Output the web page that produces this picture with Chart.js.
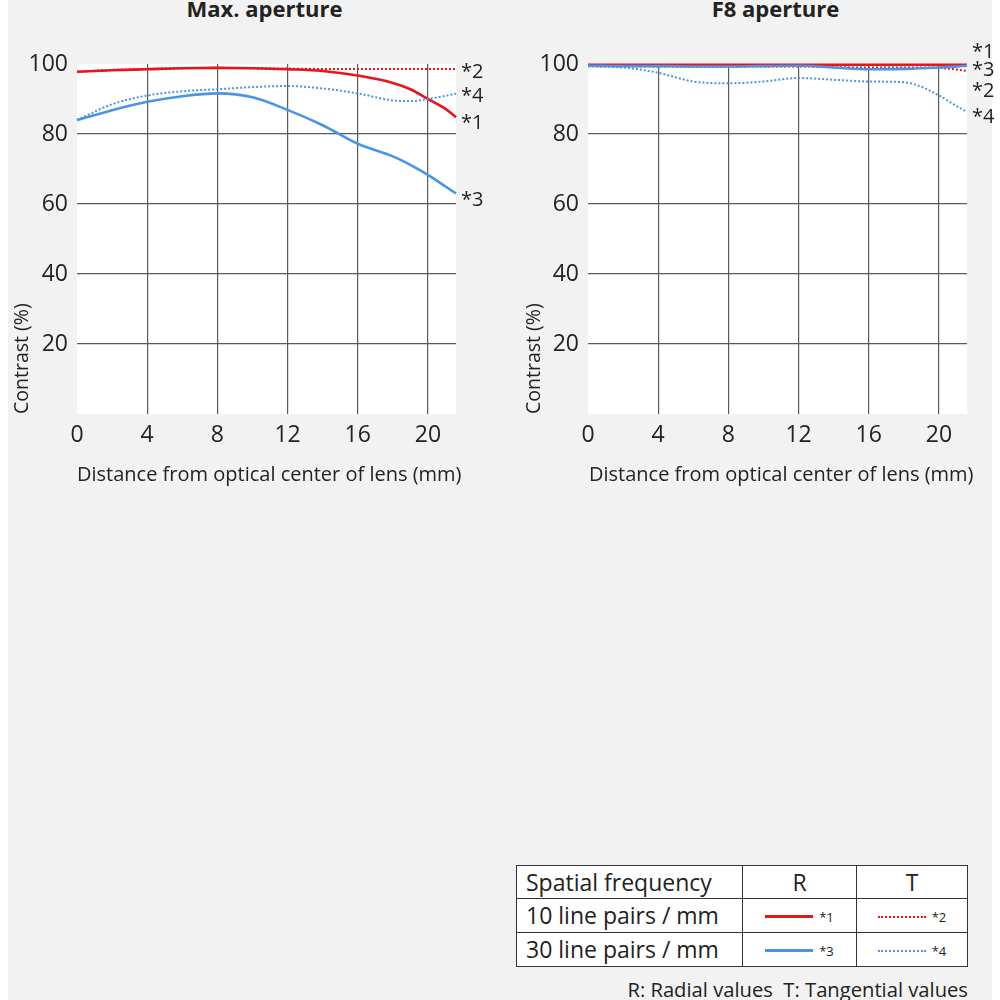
<!DOCTYPE html>
<html>
<head>
<meta charset="utf-8">
<script src="https://cdn.jsdelivr.net/npm/chart.js@4.4.1/dist/chart.umd.min.js"></script>
<style>
  body { margin: 0; background: #fff; font-family: "Open Sans", sans-serif; color: #222; }
  #page { position: relative; width: 1000px; height: 1000px; overflow: hidden; }
  #panel { position: absolute; left: 8px; top: 0; width: 984px; height: 1000px; background: #f2f2f2; }
  canvas { position: absolute; top: 0; }
  .title { position: absolute; top: -7px; font-weight: bold; font-size: 22px; text-align: center; width: 375px; }
  .xtitle { position: absolute; top: 460px; font-size: 20px; white-space: nowrap; }
  .ytitle { position: absolute; font-size: 19.5px; white-space: nowrap; transform-origin: left top; transform: rotate(-90deg); top: 414px; }
  #legend { position: absolute; left: 516px; top: 865px; border-collapse: collapse; background: #fff; font-size: 23px; table-layout: fixed; width: 452px; }
  #legend td { border: 1.5px solid #333; height: 32px; padding: 0 9px; line-height: 30px; white-space: nowrap; }
  .c1 { width: 207px; }
  .c2 { width: 95px; text-align: center; }
  .c3 { width: 92px; text-align: center; }
  .smp { display: inline-block; width: 48px; vertical-align: middle; margin-right: 6px; }
  .star { font-size: 13px; vertical-align: middle; }
  #note { position: absolute; right: 32px; top: 975px; font-size: 20.2px; white-space: nowrap; }
</style>
</head>
<body>
<div id="page">
  <div id="panel"></div>
  <div class="title" style="left:77px">Max. aperture</div>
  <div class="title" style="left:588px">F8 aperture</div>
  <canvas id="maxChart" width="500" height="500" style="left:0"></canvas>
  <canvas id="f8Chart" width="500" height="500" style="left:511px"></canvas>
  <div class="xtitle" style="left:77px">Distance from optical center of lens (mm)</div>
  <div class="xtitle" style="left:589px">Distance from optical center of lens (mm)</div>
  <div class="ytitle" style="left:7px">Contrast (%)</div>
  <div class="ytitle" style="left:519px">Contrast (%)</div>

  <table id="legend">
    <tr><td class="c1">Spatial frequency</td><td class="c2">R</td><td class="c3">T</td></tr>
    <tr><td>10 line pairs / mm</td>
      <td class="c2"><span class="smp" style="border-top:3px solid #e8141c"></span><span class="star">*1</span></td>
      <td class="c3"><span class="smp" style="border-top:2px dotted #e8141c"></span><span class="star">*2</span></td></tr>
    <tr><td>30 line pairs / mm</td>
      <td class="c2"><span class="smp" style="border-top:3px solid #4a94e4"></span><span class="star">*3</span></td>
      <td class="c3"><span class="smp" style="border-top:2px dotted #4a94e4"></span><span class="star">*4</span></td></tr>
  </table>
  <div id="note">R: Radial values&nbsp; T: Tangential values</div>
</div>

<script>
// distance from optical center (mm)
const distances = [0, 2, 4, 6, 8, 10, 12, 14, 16, 18, 19, 20, 21, 21.6];

// max. aperture
const maxR10 = [97.8, 98.2, 98.5, 98.8, 98.9, 98.8, 98.5, 98.0, 96.7, 94.6, 92.8, 90.0, 87.2, 84.8];
const maxT10 = [97.8, 98.3, 98.6, 98.8, 98.9, 98.8, 98.7, 98.6, 98.6, 98.6, 98.6, 98.6, 98.6, 98.6];
const maxR30 = [84.0, 86.8, 89.2, 90.8, 91.6, 90.5, 86.9, 82.5, 77.2, 73.6, 71.2, 68.3, 65.0, 63.0];
const maxT30 = [84.0, 88.5, 91.0, 92.2, 92.8, 93.4, 93.7, 93.0, 91.6, 89.6, 89.4, 90.0, 90.9, 91.5];

// F8 aperture
const f8R10 = [99.8, 99.8, 99.8, 99.8, 99.8, 99.8, 99.8, 99.8, 99.8, 99.8, 99.8, 99.8, 99.8, 99.8];
const f8T10 = [99.5, 99.4, 99.3, 99.2, 99.2, 99.3, 99.3, 99.1, 99.0, 99.0, 99.0, 98.9, 98.4, 98.0];
const f8R30 = [99.5, 99.4, 99.4, 99.3, 99.3, 99.4, 99.5, 99.0, 98.5, 98.6, 98.8, 99.0, 99.3, 99.5];
const f8T30 = [99.3, 99.0, 97.5, 95.0, 94.5, 95.0, 96.0, 95.5, 95.0, 94.8, 93.5, 91.0, 88.0, 86.3];

const yTicks = [20, 40, 60, 80, 100];
const xTicks = [0, 4, 8, 12, 16, 20];

// where the *n labels sit on the right of each chart (contrast value)
const seriesNames = ['*1', '*2', '*3', '*4'];
const maxLabelAt = [83.1, 97.7, 61.1, 90.9];
const f8LabelAt = [103.4, 92.3, 98.3, 84.9];

const red = '#e8141c';
const blue = '#4a94e4';

function pts(ys) {
    return distances.map((x, i) => ({ x: x, y: ys[i] }));
}

const plotBg = {
    id: 'plotBg',
    beforeDraw(chart) {
        const a = chart.chartArea;
        chart.ctx.save();
        chart.ctx.fillStyle = '#fff';
        chart.ctx.fillRect(a.left, a.top, a.right - a.left, a.bottom - a.top);
        chart.ctx.restore();
    }
};

const endLabels = {
    id: 'endLabels',
    afterDatasetsDraw(chart, args, opts) {
        const ctx = chart.ctx;
        const y = chart.scales.y;
        ctx.save();
        ctx.fillStyle = '#222';
        ctx.font = '20px "Open Sans"';
        ctx.textBaseline = 'middle';
        opts.at.forEach((v, i) => {
            ctx.fillText(seriesNames[i], chart.chartArea.right + 5, y.getPixelForValue(v));
        });
        ctx.restore();
    }
};

function createChart(id, r10, t10, r30, t30, labelAt) {
    const ctx = document.getElementById(id).getContext('2d');
    return new Chart(ctx, {
        type: 'line',
        data: {
            datasets: [
                { data: pts(t30), borderColor: blue, borderWidth: 2, borderDash: [2, 2] },
                { data: pts(r30), borderColor: blue, borderWidth: 2.6 },
                { data: pts(t10), borderColor: red, borderWidth: 2, borderDash: [2, 2] },
                { data: pts(r10), borderColor: red, borderWidth: 2.6 }
            ]
        },
        plugins: [plotBg, endLabels],
        options: {
            responsive: false,
            animation: false,
            layout: { padding: { top: 64, right: 44 } },
            elements: { point: { radius: 0 }, line: { tension: 0.4, cubicInterpolationMode: 'monotone' } },
            datasets: { line: { clip: false } },
            plugins: {
                legend: { display: false },
                tooltip: { enabled: false },
                endLabels: { at: labelAt }
            },
            scales: {
                x: {
                    type: 'linear', min: 0, max: 21.6,
                    afterFit: s => { s.height = 86; },
                    afterBuildTicks: s => { s.ticks = xTicks.map(v => ({ value: v })); },
                    border: { display: false },
                    grid: { drawTicks: false, color: c => c.tick.value === 0 ? 'transparent' : '#5a5a5a', lineWidth: 1.2 },
                    ticks: { padding: 8, color: '#222', font: { family: 'Open Sans', size: 23 } }
                },
                y: {
                    min: 0, max: 100,
                    afterFit: s => { s.width = 77; },
                    afterBuildTicks: s => { s.ticks = yTicks.map(v => ({ value: v })); },
                    border: { display: false },
                    grid: { drawTicks: false, color: c => c.tick.value === 100 ? 'transparent' : '#5a5a5a', lineWidth: 1.2 },
                    ticks: { padding: 9, color: '#222', font: { family: 'Open Sans', size: 23 } }
                }
            }
        }
    });
}

createChart('maxChart', maxR10, maxT10, maxR30, maxT30, maxLabelAt);
createChart('f8Chart', f8R10, f8T10, f8R30, f8T30, f8LabelAt);
</script>
</body>
</html>
